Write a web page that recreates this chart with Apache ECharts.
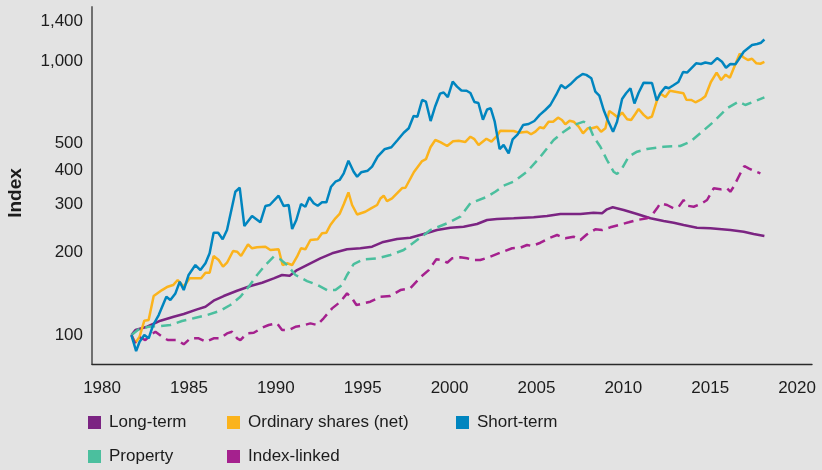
<!DOCTYPE html>
<html>
<head>
<meta charset="utf-8">
<script src="https://cdn.jsdelivr.net/npm/echarts@6/dist/echarts.min.js"></script>
<style>
  html, body { margin: 0; padding: 0; background: #e3e3e3; }
  #chart { width: 822px; height: 470px; }
</style>
</head>
<body>
<div id="chart"></div>
<script>
// Cumulative index values (start = 100), sampled at [year, value].
const longTermYears = [1981.69,1981.92,1982.59,1983.36,1984.12,1984.70,1985.47,1985.95,1986.42,1987.00,1987.77,1988.54,1989.21,1989.88,1990.36,1990.80,1991.22,1991.99,1992.56,1993.24,1994.10,1994.87,1995.54,1996.12,1996.98,1997.74,1998.51,1999.28,2000.05,2000.81,2001.58,2002.16,2002.73,2003.69,2004.84,2005.61,2006.38,2007.53,2008.29,2008.78,2009.06,2009.39,2010.02,2010.79,2011.56,2012.32,2012.90,2013.47,2014.24,2015.01,2016.16,2016.93,2017.50,2018.12];
const longTermValues = [100,104.3,107.2,112.8,116.6,119.3,124.1,126.9,133.4,138.8,145.1,151.0,155.2,161.0,165.6,164.6,172.6,182.7,190.5,198.7,205.5,207.3,210.1,217.9,224.1,226.5,233.7,241.6,246.4,248.5,254.2,262.9,265.1,266.7,268.9,271.9,276.5,276.5,279.5,278.1,287.6,292.5,285.9,276.5,266.7,260.7,257.0,252.0,246.4,245.2,241.6,238.2,233.7,229.8];

const sharesYears = [1981.69,1981.92,1982.16,1982.43,1982.68,1982.97,1983.45,1983.78,1984.09,1984.35,1984.70,1985.04,1985.70,1985.95,1986.19,1986.42,1986.71,1986.96,1987.19,1987.54,1987.77,1988.00,1988.40,1988.63,1988.92,1989.40,1989.69,1990.16,1990.39,1990.65,1990.94,1991.22,1991.45,1991.70,1991.99,1992.41,1992.66,1992.91,1993.14,1993.43,1993.67,1993.91,1994.18,1994.39,1994.68,1995.15,1995.48,1995.83,1996.02,1996.21,1996.40,1996.69,1997.27,1997.46,1997.95,1998.42,1998.64,1998.90,1999.18,1999.47,1999.86,2000.20,2000.52,2000.91,2001.20,2001.43,2001.67,2002.12,2002.41,2002.73,2002.92,2003.69,2003.98,2004.46,2004.69,2004.94,2005.19,2005.42,2005.70,2005.96,2006.24,2006.47,2006.66,2006.91,2007.14,2007.43,2007.68,2007.95,2008.20,2008.49,2008.72,2008.97,2009.19,2009.44,2009.67,2009.93,2010.22,2010.45,2010.69,2010.88,2011.17,2011.40,2011.65,2011.92,2012.13,2012.42,2012.68,2013.23,2013.46,2013.63,2013.92,2014.15,2014.46,2014.72,2015.04,2015.37,2015.63,2015.89,2016.13,2016.39,2016.70,2016.93,2017.17,2017.41,2017.66,2017.89,2018.12];
const sharesValues = [100,93.7,98.6,112.8,113.4,138.8,145.9,150.1,152.2,158.8,150.1,161.0,161.0,168.8,168.8,194.3,187.8,177.6,183.6,202.6,201.4,194.3,214.3,207.3,209.0,210.1,204.3,205.5,180.1,182.7,180.1,193.1,207.3,205.5,222.2,223.5,235.1,236.3,252.0,266.7,276.5,299.9,331.3,298.2,275.3,281.8,290.0,298.2,314.9,322.4,308.3,315.3,343.9,344.7,393.5,431.5,438.2,484.6,514.9,505.4,489.5,509.3,511.9,506.4,529.3,518.4,493.7,520.2,507.6,532.6,556.8,555.4,547.5,552.1,540.2,552.1,572.9,568.1,600.5,600.5,621.1,609.1,587.5,605.5,600.5,575.8,544.7,568.1,568.1,575.8,552.1,568.1,656.9,640.6,623.1,648.6,612.7,609.1,640.6,668.0,635.7,617.9,627.3,712.6,761.1,739.0,779.3,767.4,762.3,722.4,720.6,706.8,722.4,743.3,838.3,906.5,852.5,891.3,869.2,953.3,1063,1030,1008,1019,981,977,991.7];

const shortTermYears = [1981.69,1981.96,1982.16,1982.43,1982.68,1982.94,1983.26,1983.70,1983.93,1984.22,1984.47,1984.70,1984.98,1985.37,1985.66,1985.95,1986.19,1986.42,1986.68,1986.94,1987.19,1987.42,1987.67,1987.92,1988.19,1988.63,1989.11,1989.40,1989.65,1990.16,1990.45,1990.74,1990.94,1991.18,1991.45,1991.70,1991.93,1992.18,1992.41,1992.66,1992.91,1993.18,1993.43,1993.67,1993.91,1994.18,1994.48,1994.68,1994.91,1995.29,1995.54,1995.86,1996.25,1996.65,1997.01,1997.36,1997.65,1997.93,1998.15,1998.42,1998.64,1998.91,1999.18,1999.45,1999.66,1999.90,2000.18,2000.43,2000.68,2000.98,2001.20,2001.43,2001.66,2001.92,2002.16,2002.37,2002.60,2002.88,2003.11,2003.40,2003.63,2003.92,2004.23,2004.55,2004.88,2005.19,2005.51,2005.80,2006.13,2006.42,2006.66,2006.95,2007.34,2007.66,2007.87,2008.16,2008.39,2008.62,2008.87,2009.10,2009.41,2009.64,2009.93,2010.16,2010.41,2010.64,2010.88,2011.17,2011.65,2011.92,2012.13,2012.42,2012.61,2012.86,2013.17,2013.44,2013.67,2014.19,2014.47,2014.72,2015.07,2015.40,2015.68,2015.91,2016.16,2016.45,2016.62,2016.93,2017.41,2017.70,2017.93,2018.12];
const shortTermValues = [100,87.4,94.5,100,97.3,108.8,118.3,138.0,134.2,141.9,156.5,145.9,165.6,180.1,172.6,182.7,198.7,236.3,236.3,223.5,241.6,281.8,333.4,344.8,249.9,271.9,257.8,295.6,298.2,322.4,295.6,298.2,243.7,262.9,300.7,293.9,318.1,302.5,296.4,305.0,305.0,347.7,362.7,368.0,389.2,432.6,394.5,378.2,392.5,397.8,411.5,447.4,476.1,484.2,514.9,547.5,568.1,630.1,626.3,720.6,710.4,603.9,685.2,759.8,767.4,737.7,840.5,805.9,780.5,779,764.2,708.6,702.6,610.6,665.3,672.1,600.5,477.3,493.7,460.4,517.9,540.2,584.0,589.0,603.9,635.7,662.5,690.9,751.5,817.4,795.2,822.2,869.2,896.6,889.9,864.9,772.7,747.1,662.5,609.1,552.1,600.5,726.6,762.3,795.2,699.7,766.1,833.4,831.3,717.5,762.3,803.9,795.2,814.0,838.3,911.8,907.8,980.9,975.2,987.5,977.5,1025,994.1,945.2,975.2,972.7,1008,1081,1144,1153,1166,1198];

const propertyYears = [1981.69,1982.11,1982.68,1983.36,1983.93,1984.60,1985.27,1986.04,1986.81,1987.38,1987.96,1988.44,1988.92,1989.40,1989.88,1990.26,1990.65,1991.13,1991.80,1992.41,1992.95,1993.43,1993.81,1994.10,1994.48,1995.06,1995.83,1996.59,1997.36,1998.13,1998.90,1999.86,2000.62,2001.20,2002.16,2002.63,2003.11,2003.69,2004.46,2005.23,2005.99,2006.57,2007.14,2007.72,2008.01,2008.29,2008.68,2009.06,2009.44,2009.64,2009.93,2010.31,2010.79,2011.37,2012.32,2013.28,2013.86,2014.43,2015.20,2015.97,2016.64,2017.02,2017.50,2018.12];
const propertyValues = [100,104.9,107.2,107.9,108.8,112.5,115.1,118.3,122.7,128.7,138.0,150.1,165.6,180.1,193.1,188.9,180.1,165.6,157.4,152.2,145.9,145.9,152.2,165.6,181.6,188.9,190.5,195.9,204.3,222.2,241.6,255.7,270.3,302.5,319.6,333.4,350.7,362.7,394.5,447.4,514.9,552.1,584.0,600.5,584.0,529.3,486.6,435.2,394.5,387.0,405.9,447.4,466.7,477.3,486.6,489.5,507.6,544.7,600.5,672.1,710.4,690.9,710.4,737.0];

const indexLinkedYears = [1981.69,1981.88,1982.16,1982.49,1982.78,1983.07,1983.45,1983.78,1984.32,1984.70,1985.08,1985.56,1986.00,1986.42,1986.81,1987.19,1987.48,1987.77,1987.96,1988.35,1988.73,1989.21,1989.59,1990.07,1990.36,1990.74,1991.13,1991.51,1991.99,1992.37,1992.75,1993.24,1993.72,1994.10,1994.39,1994.64,1995.06,1995.44,1996.02,1996.59,1997.17,1997.74,1998.32,1998.80,1999.24,1999.57,1999.86,2000.14,2000.62,2001.01,2001.39,2001.77,2002.35,2002.92,2003.60,2004.07,2004.46,2004.75,2005.23,2005.70,2006.19,2006.66,2007.14,2007.53,2007.91,2008.39,2008.78,2009.25,2009.73,2010.31,2010.79,2011.37,2011.66,2011.94,2012.13,2012.52,2012.90,2013.19,2013.47,2013.67,2014.05,2014.53,2014.82,2015.20,2015.59,2015.97,2016.16,2016.35,2016.74,2016.97,2017.21,2017.50,2017.89];
const indexLinkedValues = [100,93.7,98.1,95.9,100,102.8,98.6,95.9,95.9,92.5,97.3,97.3,94.5,97.3,97.3,101.4,102.8,97.3,95.9,101.4,101.9,106.3,108.8,110.3,104.3,104.3,107.2,108.1,110.3,108.8,115.1,125.1,132.3,141.9,136.1,128.7,130.5,132.3,138.0,138.8,145.9,148.1,162.4,172.6,188.9,187.8,183.6,190.5,192.1,190.5,187.8,187.8,193.1,199.7,207.3,208.3,213.1,211.3,217.2,225.4,231.7,225.4,228.5,222.2,233.1,243.1,241.6,247.2,252.0,257.8,262.9,266.7,274.2,290.0,302.5,298.2,290.0,293.9,311.0,296.4,293.9,302.5,311.0,343.1,340.2,343.1,333.4,347.7,389.2,413.9,405.9,397.8,389.2];

const yearTicks = [1980, 1985, 1990, 1995, 2000, 2005, 2010, 2015, 2020];
const indexTicks = [100, 200, 300, 400, 500, 1000, 1400];

const seriesNames = ['Long-term', 'Ordinary shares (net)', 'Short-term', 'Property', 'Index-linked'];
const seriesColors = ['#7b2482', '#fbb31c', '#0085bf', '#4bbf9e', '#a5218e'];

function pairs(xs, ys) {
  return xs.map((x, i) => [x, ys[i]]);
}

function withCommas(v) {
  return String(Math.round(v)).replace(/\B(?=(\d{3})+(?!\d))/g, ',');
}

const seriesData = [
  pairs(longTermYears, longTermValues),
  pairs(sharesYears, sharesValues),
  pairs(shortTermYears, shortTermValues),
  pairs(propertyYears, propertyValues),
  pairs(indexLinkedYears, indexLinkedValues)
];
const dashed = [false, false, false, true, true];

const textColor = '#1c1c1c';
const font = '"Liberation Sans", Arial, sans-serif';

// One legend block per entry so each sits in its own column/row.
const legendSlots = [
  { left: 88, top: 414 },
  { left: 227, top: 414 },
  { left: 456, top: 414 },
  { left: 88, top: 448 },
  { left: 227, top: 448 }
];

const chart = echarts.init(document.getElementById('chart'), null, { renderer: 'canvas' });

chart.setOption({
  backgroundColor: '#e3e3e3',
  animation: false,
  textStyle: { fontFamily: font },
  grid: {
    left: 92, right: 10, top: 7, bottom: 106,
    containLabel: false,
    outerBoundsMode: 'none'
  },
  xAxis: {
    type: 'value',
    min: 1979.42,
    max: 2020.86,
    axisLine: { show: true, lineStyle: { color: '#2a2a2a', width: 1.4 } },
    axisTick: { show: false },
    splitLine: { show: false },
    axisLabel: {
      customValues: yearTicks,
      formatter: v => String(Math.round(v)),
      color: textColor,
      fontSize: 17,
      fontFamily: font,
      margin: 16
    }
  },
  yAxis: {
    type: 'log',
    logBase: 10,
    min: 78.4,
    max: 1574,
    axisLine: { show: true, lineStyle: { color: '#707070', width: 2 } },
    axisTick: { show: false },
    splitLine: { show: false },
    axisLabel: {
      customValues: indexTicks,
      formatter: v => withCommas(v),
      color: textColor,
      fontSize: 17,
      fontFamily: font,
      margin: 9
    }
  },
  graphic: [{
    type: 'text',
    x: 16,
    y: 193,
    rotation: Math.PI / 2,
    style: {
      text: 'Index',
      fill: textColor,
      font: 'bold 19px "Liberation Sans", Arial, sans-serif',
      align: 'center',
      verticalAlign: 'middle'
    }
  }],
  legend: seriesNames.map((name, k) => ({
    data: [name],
    left: legendSlots[k].left,
    top: legendSlots[k].top,
    padding: 0,
    icon: 'rect',
    itemWidth: 13,
    itemHeight: 13,
    selectedMode: false,
    textStyle: {
      color: textColor,
      fontSize: 17,
      fontFamily: font,
      lineHeight: 17,
      padding: [0, 0, 0, 3]
    }
  })),
  series: seriesData.map((data, i) => ({
    name: seriesNames[i],
    type: 'line',
    data: data,
    showSymbol: false,
    symbol: 'none',
    color: seriesColors[i],
    z: i === 2 ? 4 : 2,
    lineStyle: {
      color: seriesColors[i],
      width: 2.5,
      type: dashed[i] ? [10, 6] : 'solid'
    },
    itemStyle: { color: seriesColors[i] }
  }))
});
</script>
</body>
</html>
